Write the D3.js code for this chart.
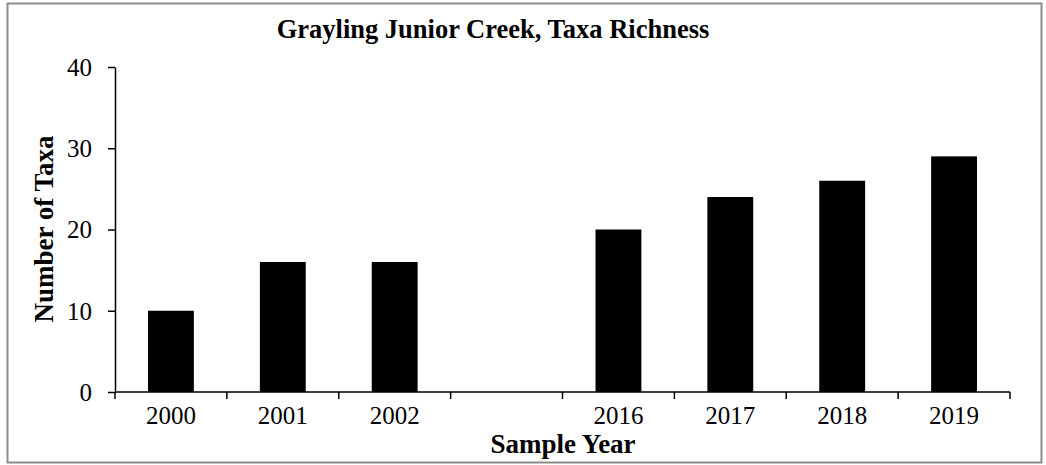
<!DOCTYPE html>
<html>
<head>
<meta charset="utf-8">
<script src="https://cdn.jsdelivr.net/npm/d3@7"></script>
<style>
  html, body { margin: 0; padding: 0; background: #fff; }
  svg { display: block; }
  text { font-family: "Liberation Serif", "Times New Roman", serif; fill: #000; }
</style>
</head>
<body>
<svg id="chart" width="1046" height="465"></svg>
<script>
const categories = ["2000", "2001", "2002", "", "2016", "2017", "2018", "2019"];
const values = [10, 16, 16, null, 20, 24, 26, 29];
const yTicks = [0, 10, 20, 30, 40];
const title = "Grayling Junior Creek, Taxa Richness";
const xTitle = "Sample Year";
const yTitle = "Number of Taxa";

(function () {
const svg = d3.select("#chart");

// outer border
svg.append("rect")
  .attr("x", 7.5).attr("y", 3.5)
  .attr("width", 1034).attr("height", 459)
  .attr("fill", "#fff").attr("stroke", "#8c8c8c").attr("stroke-width", 2);

const mLeft = 115, mRight = 1010, mTop = 67, mBottom = 392;

const keys = categories.map((c, i) => i);
const x = d3.scaleBand().domain(keys).range([mLeft, mRight]).paddingInner(0).paddingOuter(0);
const y = d3.scaleLinear().domain([0, 40]).range([mBottom, mTop]);

const barFrac = 0.41;
svg.append("g").selectAll("rect")
  .data(values.map((v, i) => ({ i, v })).filter(d => d.v != null))
  .join("rect")
  .attr("x", d => x(d.i) + x.bandwidth() * (1 - barFrac) / 2)
  .attr("width", x.bandwidth() * barFrac)
  .attr("y", d => y(d.v))
  .attr("height", d => y(0) - y(d.v))
  .attr("fill", "#000");

// y axis
const yAxis = d3.axisLeft(y).tickValues(yTicks).tickSize(7).tickPadding(16).tickSizeOuter(0);
const gy = svg.append("g").attr("transform", `translate(${mLeft},0)`).call(yAxis);
gy.select(".domain").attr("stroke", "#000").attr("stroke-width", 1.5);
gy.selectAll(".tick line").attr("stroke", "#000").attr("stroke-width", 1.5);
gy.selectAll(".tick text").attr("font-size", 25).attr("font-family", "Liberation Serif, serif").attr("dy", "0.33em");

// x axis: ticks at band boundaries
const gx = svg.append("g").attr("transform", `translate(0,${mBottom})`);
gx.append("line").attr("x1", mLeft).attr("x2", mRight).attr("y1", 0).attr("y2", 0)
  .attr("stroke", "#000").attr("stroke-width", 1.5);
const boundaries = keys.map(k => x(k)).concat([x(keys[keys.length - 1]) + x.bandwidth()]);
gx.selectAll("line.tk").data(boundaries).join("line").attr("class", "tk")
  .attr("x1", d => d).attr("x2", d => d).attr("y1", 0).attr("y2", 7)
  .attr("stroke", "#000").attr("stroke-width", 1.5);
gx.selectAll("text.lbl").data(keys).join("text").attr("class", "lbl")
  .attr("x", d => x(d) + x.bandwidth() / 2)
  .attr("y", 32)
  .attr("text-anchor", "middle")
  .attr("font-size", 25)
  .text(d => categories[d]);

// titles
svg.append("text").attr("x", 493).attr("y", 38).attr("text-anchor", "middle")
  .attr("font-size", 26.5).attr("font-weight", "bold").text(title);
svg.append("text").attr("x", 563).attr("y", 453).attr("text-anchor", "middle")
  .attr("font-size", 27).attr("font-weight", "bold").text(xTitle);
svg.append("text").attr("transform", "translate(53,229) rotate(-90)").attr("text-anchor", "middle")
  .attr("font-size", 27).attr("font-weight", "bold").text(yTitle);
})();
</script>
</body>
</html>
